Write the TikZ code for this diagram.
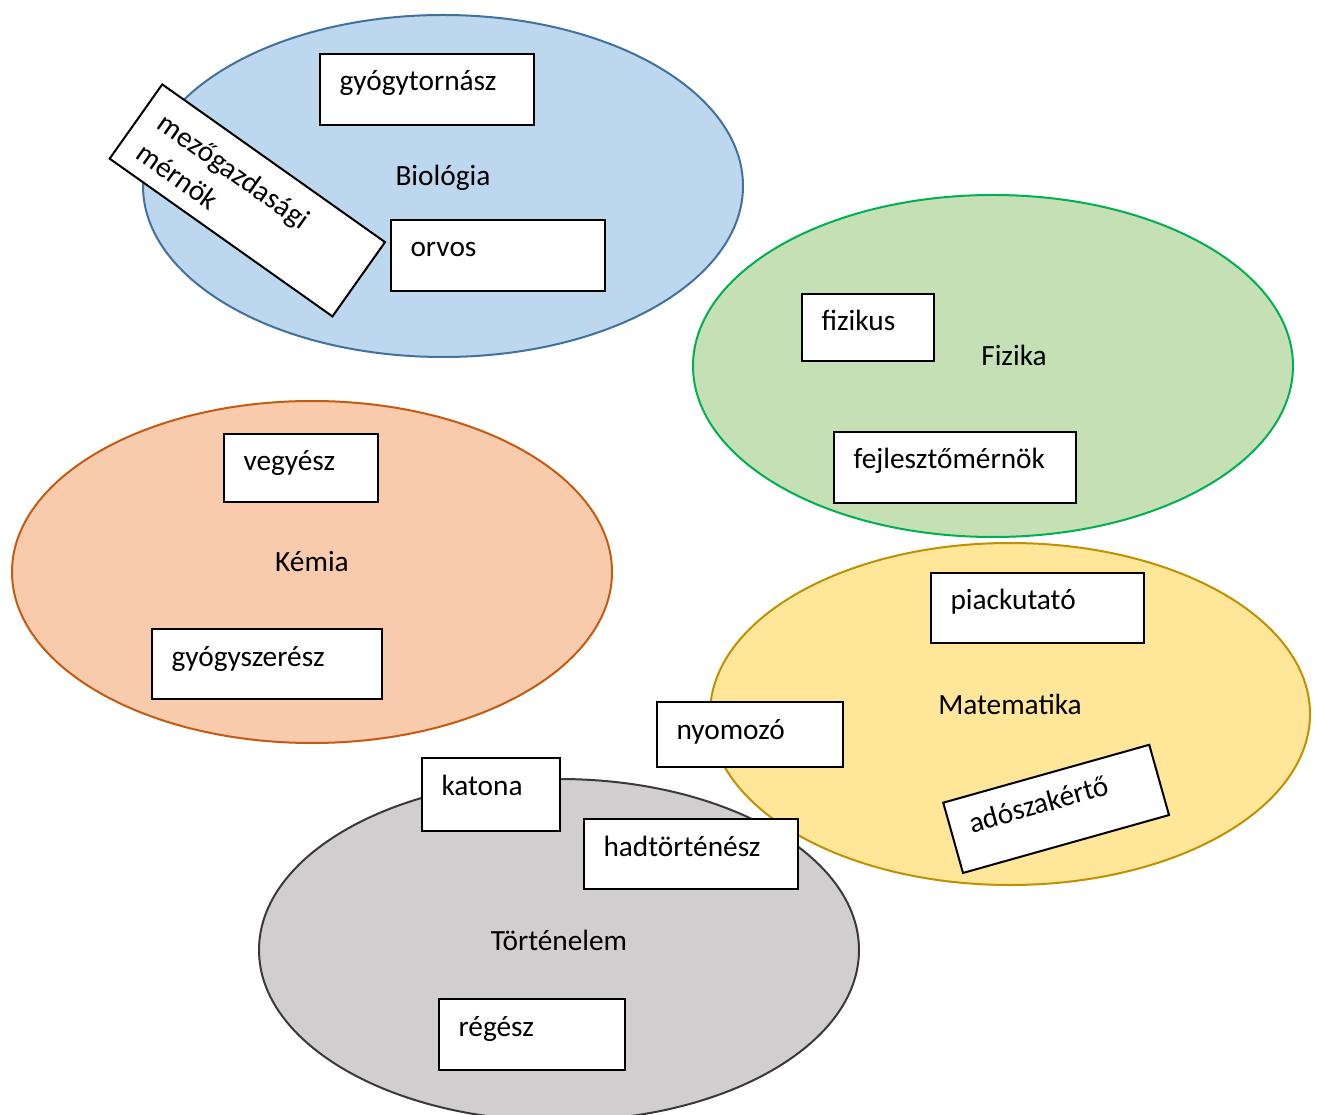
\documentclass[tikz,border=0pt]{standalone}
\usepackage{fontspec}
\setmainfont{Carlito}
\usetikzlibrary{shapes.geometric}
\definecolor{bioF}{HTML}{BDD7EE}\definecolor{bioD}{HTML}{41719C}
\definecolor{fizF}{HTML}{C5E0B4}\definecolor{fizD}{HTML}{00B050}
\definecolor{kemF}{HTML}{F8CBAD}\definecolor{kemD}{HTML}{C55A11}
\definecolor{matF}{HTML}{FFE699}\definecolor{matD}{HTML}{BF9000}
\definecolor{torF}{HTML}{D0CECE}\definecolor{torD}{HTML}{3B3838}
\newcommand\jobbox[6]{%
  \node[boxst, anchor=north west, minimum width={(#4-#2)*0.375pt}, minimum height={(#5-#3)*0.375pt}] (#1) at (#2,#3) {};
  \node[jobtext] (#1t) at ([shift={(20,38)}]#1.north west) {#6};}
\begin{document}
\begin{tikzpicture}[x=0.375pt,y=-0.375pt,
  area/.style={ellipse, line width=0.75pt, inner sep=0, minimum width=225pt, minimum height=128.25pt},
  boxst/.style={rectangle, draw=black, fill=white, line width=0.75pt, inner sep=0},
  jobtext/.style={anchor=base west, inner sep=0, font=\fontsize{11}{13.4}\selectfont},
  areatext/.style={anchor=base, inner sep=0, font=\fontsize{11}{13.4}\selectfont}]
\useasboundingbox (0,0) rectangle (1320,1115);
% areas
\node[area, draw=bioD, fill=bioF] (bio) at (443,186) {};
\node[areatext] (biot) at (443,186) {Biológia};
\node[area, draw=fizD, fill=fizF] (fiz) at (993,366) {};
\node[areatext] (fizt) at (1014,366) {Fizika};
\node[area, draw=kemD, fill=kemF] (kem) at (312,572) {};
\node[areatext] (kemt) at (312,571) {Kémia};
\node[area, draw=matD, fill=matF] (mat) at (1010,714) {};
\node[areatext] (matt) at (1010,714) {Matematika};
\node[area, draw=torD, fill=torF] (tor) at (559,950) {};
\node[areatext] (tort) at (559,950) {Történelem};
% boxes
\jobbox{gyt}{319}{53}{533}{124}{gyógytornász}
\jobbox{orv}{390}{219}{604}{290}{orvos}
\jobbox{fzk}{801}{293}{933}{360}{fizikus}
\jobbox{fej}{833}{431}{1075}{502}{fejlesztőmérnök}
\jobbox{veg}{223}{433}{377}{501}{vegyész}
\jobbox{gysz}{151}{628}{381}{698}{gyógyszerész}
\jobbox{pia}{930}{572}{1143}{642}{piackutató}
\jobbox{nyo}{656}{701}{842}{766}{nyomozó}
\jobbox{kat}{421}{757}{559}{830}{katona}
\jobbox{had}{583}{818}{797}{888}{hadtörténész}
\jobbox{reg}{438}{998}{624}{1069}{régész}
% rotated boxes
\begin{scope}[shift={(162,83)}, rotate=-35.3, transform shape]
  \node[boxst, anchor=north west, minimum width={273*0.375pt}, minimum height={91*0.375pt}] (mez) at (0,0) {};
  \node[jobtext] (mezt1) at (20,40) {mezőgazdasági};
  \node[jobtext] (mezt2) at (20,77) {mérnök};
\end{scope}
\begin{scope}[shift={(942,802)}, rotate=15.7, transform shape]
  \node[boxst, anchor=north west, minimum width={214*0.375pt}, minimum height={73*0.375pt}] (ado) at (0,0) {};
  \node[jobtext] (adot) at (20,38) {adószakértő};
\end{scope}
\end{tikzpicture}
\end{document}
